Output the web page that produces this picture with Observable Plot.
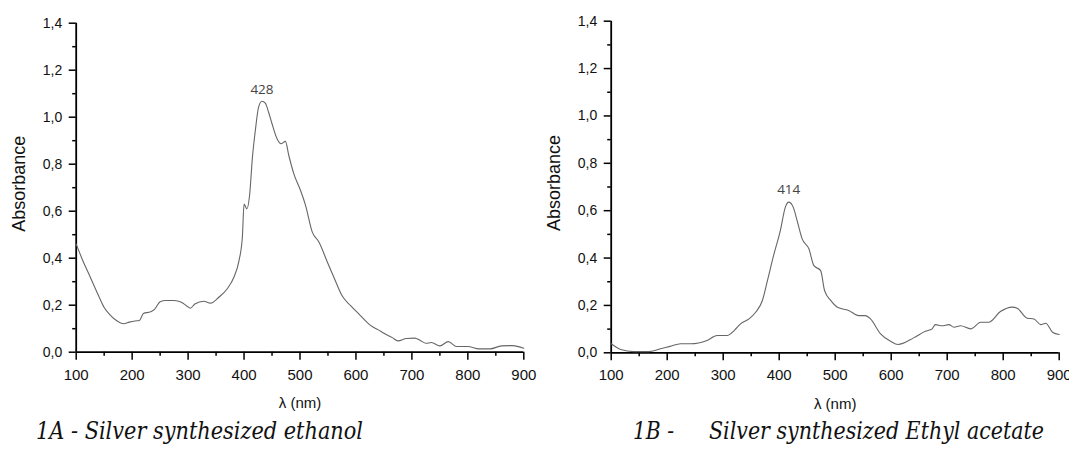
<!DOCTYPE html>
<html>
<head>
<meta charset="utf-8">
<script src="https://cdn.jsdelivr.net/npm/d3@7"></script>
<script src="https://cdn.jsdelivr.net/npm/@observablehq/plot@0.6"></script>
<style>
  html, body { margin: 0; padding: 0; background: #fff; }
  #wrap { position: relative; width: 1069px; height: 450px; overflow: hidden; }
  .panel { position: absolute; top: 0; height: 410px; }
  .panel svg { overflow: visible; }
  .cap { position: absolute; top: 419px; font-family: "DejaVu Serif", serif; font-style: italic; font-size: 24px; color: #111; white-space: pre; line-height: 1; transform-origin: 0 0; }
</style>
</head>
<body>
<div id="wrap">
  <div class="panel" id="pA" style="left:0;width:535px"></div>
  <div class="panel" id="pB" style="left:535px;width:534px"></div>
  <div class="cap" data-w="327" style="left:36px">1A - Silver synthesized ethanol</div>
  <div class="cap" data-w="41" style="left:633px">1B -</div>
  <div class="cap" data-w="335" style="left:709px">Silver synthesized Ethyl acetate</div>
</div>
<script>
// Spectrum 1A (ethanol)
const nmA = [100,110,125,140,150,160,170,185,195,205,213,220,233,240,250,260,275,288,297,304,312,328,340,355,370,382,391,397,400,405,410,415,420,426,432,438,444,450,459,466,474,480,489,501,510,522,534,549,563,575,590,608,626,640,650,665,675,690,705,715,725,735,750,765,780,800,820,840,860,880,900];
const absA = [0.46,0.40,0.32,0.24,0.19,0.16,0.138,0.121,0.128,0.133,0.135,0.165,0.172,0.182,0.215,0.22,0.22,0.213,0.198,0.187,0.205,0.217,0.209,0.234,0.27,0.32,0.39,0.49,0.63,0.61,0.67,0.83,0.94,1.043,1.068,1.06,1.02,0.972,0.908,0.887,0.897,0.837,0.759,0.688,0.624,0.511,0.468,0.383,0.305,0.241,0.199,0.156,0.114,0.095,0.081,0.062,0.048,0.058,0.06,0.05,0.038,0.041,0.027,0.045,0.024,0.024,0.014,0.014,0.027,0.028,0.017];
// Spectrum 1B (ethyl acetate)
const nmB = [100,117,140,167,188,205,224,242,271,289,307,320,331,346,358,370,379,390,402,411,417,425,432,441,453,462,474,481,492,504,524,542,554,563,581,599,612,640,661,673,679,691,703,712,724,742,760,774,795,816,825,843,855,867,876,888,900];
const absB = [0.038,0.014,0.005,0.005,0.017,0.027,0.038,0.038,0.052,0.073,0.073,0.095,0.122,0.143,0.171,0.221,0.305,0.411,0.516,0.615,0.636,0.615,0.558,0.481,0.439,0.368,0.347,0.263,0.221,0.192,0.179,0.157,0.157,0.143,0.08,0.049,0.035,0.063,0.091,0.101,0.119,0.114,0.119,0.108,0.114,0.101,0.129,0.129,0.174,0.193,0.188,0.146,0.143,0.119,0.125,0.087,0.077];
// Peak annotations
const peakA = {nm: [432], abs: [1.068], label: ["428"]};
const peakB = {nm: [417], abs: [0.636], label: ["414"]};
// Axis ticks
const xTicks = [100,200,300,400,500,600,700,800,900];
const xMinor = [150,250,350,450,550,650,750,850];
const yTicks = [0,0.2,0.4,0.6,0.8,1.0,1.2,1.4];
const yMinor = [0.1,0.3,0.5,0.7,0.9,1.1,1.3];
const xLabel = "λ (nm)";
const yLabel = "Absorbance";

const fmtY = d => d.toFixed(1).replace(".", ",");

function chart(nm, abs, peak, m) {
  const data = nm.map((x, i) => ({x, y: abs[i]}));
  const pk = peak.nm.map((x, i) => ({x, y: peak.abs[i], t: peak.label[i]}));
  return Plot.plot({
    width: m.width, height: 410,
    marginLeft: m.left, marginRight: m.right, marginTop: m.top, marginBottom: m.bottom,
    style: {fontFamily: "'Liberation Sans', Arial, sans-serif", background: "transparent", overflow: "visible", color: "#111"},
    x: {domain: [100, 900], axis: null},
    y: {domain: [0, 1.4], axis: null},
    marks: [
      Plot.axisX({ticks: xTicks, tickSize: 8, tickPadding: 9, tickFormat: d => String(d), fontSize: 15, stroke: "#000", strokeWidth: 1.5, label: null}),
      Plot.axisX({ticks: xMinor, tickSize: 4, text: null, stroke: "#000", strokeWidth: 1.5, label: null}),
      Plot.axisY({ticks: yTicks, tickSize: 7, tickPadding: 7, tickFormat: fmtY, fontSize: 14, stroke: "#000", strokeWidth: 1.5, label: null}),
      Plot.axisY({ticks: yMinor, tickSize: 3.5, text: null, stroke: "#000", strokeWidth: 1.5, label: null}),
      Plot.ruleX([100], {stroke: "#000", strokeWidth: 1.8}),
      Plot.ruleY([0], {stroke: "#000", strokeWidth: 1.8}),
      Plot.line(data, {x: "x", y: "y", stroke: "#666", strokeWidth: 1.1, curve: "monotone-x"}),
      Plot.text(pk, {x: "x", y: "y", text: "t", dy: -12, fontSize: 13.5, fontFamily: "'Open Sans', sans-serif", fill: "#444"}),
      Plot.text([xLabel], {text: d => d, frameAnchor: "bottom", textAnchor: "middle", lineAnchor: "middle", dy: 51, fontSize: 15, fill: "#111"}),
      Plot.text([yLabel], {text: d => d, frameAnchor: "left", textAnchor: "middle", lineAnchor: "middle", dx: -57, dy: -4, rotate: -90, fontSize: 18, fill: "#111"})
    ]
  });
}

document.getElementById("pA").append(chart(nmA, absA, peakA, {width: 535, left: 75.7, right: 11.7, top: 22.7, bottom: 58.3}));
document.getElementById("pB").append(chart(nmB, absB, peakB, {width: 534, left: 75.7, right: 10.3, top: 20.7, bottom: 57.7}));

// Fit caption widths to the reference layout
document.querySelectorAll(".cap").forEach(el => {
  const w = el.getBoundingClientRect().width;
  const target = +el.dataset.w;
  if (w > 0) el.style.transform = `scaleX(${target / w})`;
});
</script>
</body>
</html>
